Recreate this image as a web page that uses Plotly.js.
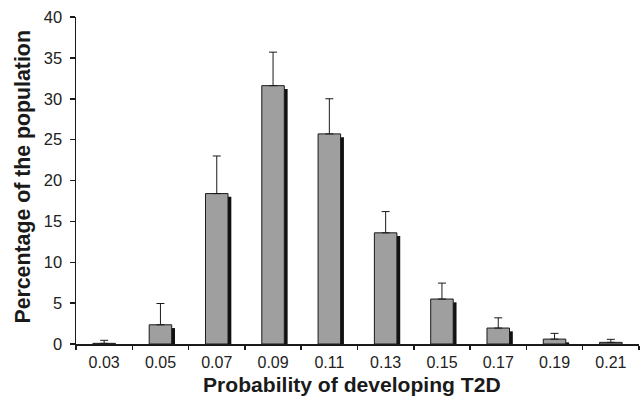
<!DOCTYPE html>
<html>
<head>
<meta charset="utf-8">
<script src="https://cdn.plot.ly/plotly-3.0.1.min.js"></script>
<style>html,body{margin:0;padding:0;background:#fff;}#chart{width:641px;height:406px;}</style>
</head>
<body>
<div id="chart"></div>
<script>
var categories = ["0.03","0.05","0.07","0.09","0.11","0.13","0.15","0.17","0.19","0.21"];
var percentages = [0.08, 2.35, 18.4, 31.6, 25.7, 13.6, 5.5, 1.95, 0.6, 0.2];
var errorUp = [0.37, 2.6, 4.6, 4.1, 4.3, 2.6, 1.95, 1.25, 0.7, 0.37];
var yTicks = [0,5,10,15,20,25,30,35,40];
var xTitle = 'Probability of developing T2D';
var yTitle = 'Percentage of the population';

var shadowVals = percentages.map(function(v){ return Math.max(v - 0.4, 0); });

var shadow = {
  type: 'bar', x: categories, y: shadowVals,
  width: 0.4, offset: -0.141,
  marker: {color: '#111111', line: {width: 0}},
  hoverinfo: 'skip', showlegend: false
};
var bars = {
  type: 'bar', x: categories, y: percentages,
  width: 0.4, offset: -0.2,
  marker: {color: '#9e9f9e', line: {color: '#1a1a1a', width: 1}},
  error_y: {type: 'data', symmetric: false, array: errorUp, arrayminus: percentages.map(function(){return 0;}),
            color: '#1a1a1a', thickness: 1, width: 4},
  showlegend: false
};

var layout = {
  width: 641, height: 406,
  margin: {l: 76, r: 2, t: 17, b: 62},
  paper_bgcolor: '#fff', plot_bgcolor: '#fff',
  barmode: 'overlay',
  font: {family: 'Liberation Sans, Arial, sans-serif', color: '#222', size: 16},
  xaxis: {
    type: 'category', range: [-0.5, 9.5],
    showline: true, linecolor: '#1a1a1a', linewidth: 1.5,
    ticks: 'outside', tickson: 'boundaries', ticklen: 4, tickcolor: '#1a1a1a', tickwidth: 1.5,
    tickfont: {family: 'Liberation Sans, Arial, sans-serif', size: 16, color: '#222'},
    ticklabelstandoff: 3,
    showgrid: false, zeroline: false
  },
  yaxis: {
    range: [0, 40], tickvals: yTicks, ticktext: yTicks.map(String),
    showline: true, linecolor: '#1a1a1a', linewidth: 1.5,
    ticks: 'outside', ticklen: 5, tickcolor: '#1a1a1a', tickwidth: 1.5,
    tickfont: {family: 'Liberation Sans, Arial, sans-serif', size: 16.5, color: '#222'},
    ticklabelstandoff: 4,
    showgrid: false, zeroline: false
  },
  annotations: [
    {text: '<b>' + xTitle + '</b>', xref: 'paper', yref: 'paper', x: 0.4911, y: 0,
     xanchor: 'center', yanchor: 'middle', yshift: -40, showarrow: false,
     font: {size: 21.1, color: '#1a1a1a'}},
    {text: '<b>' + yTitle + '</b>', xref: 'paper', yref: 'paper', x: 0, y: 0.509,
     xanchor: 'center', yanchor: 'middle', xshift: -53, textangle: -90, showarrow: false,
     font: {size: 21.3, color: '#1a1a1a'}}
  ]
};

Plotly.newPlot('chart', [shadow, bars], layout, {displayModeBar: false, staticPlot: true});
</script>
</body>
</html>
